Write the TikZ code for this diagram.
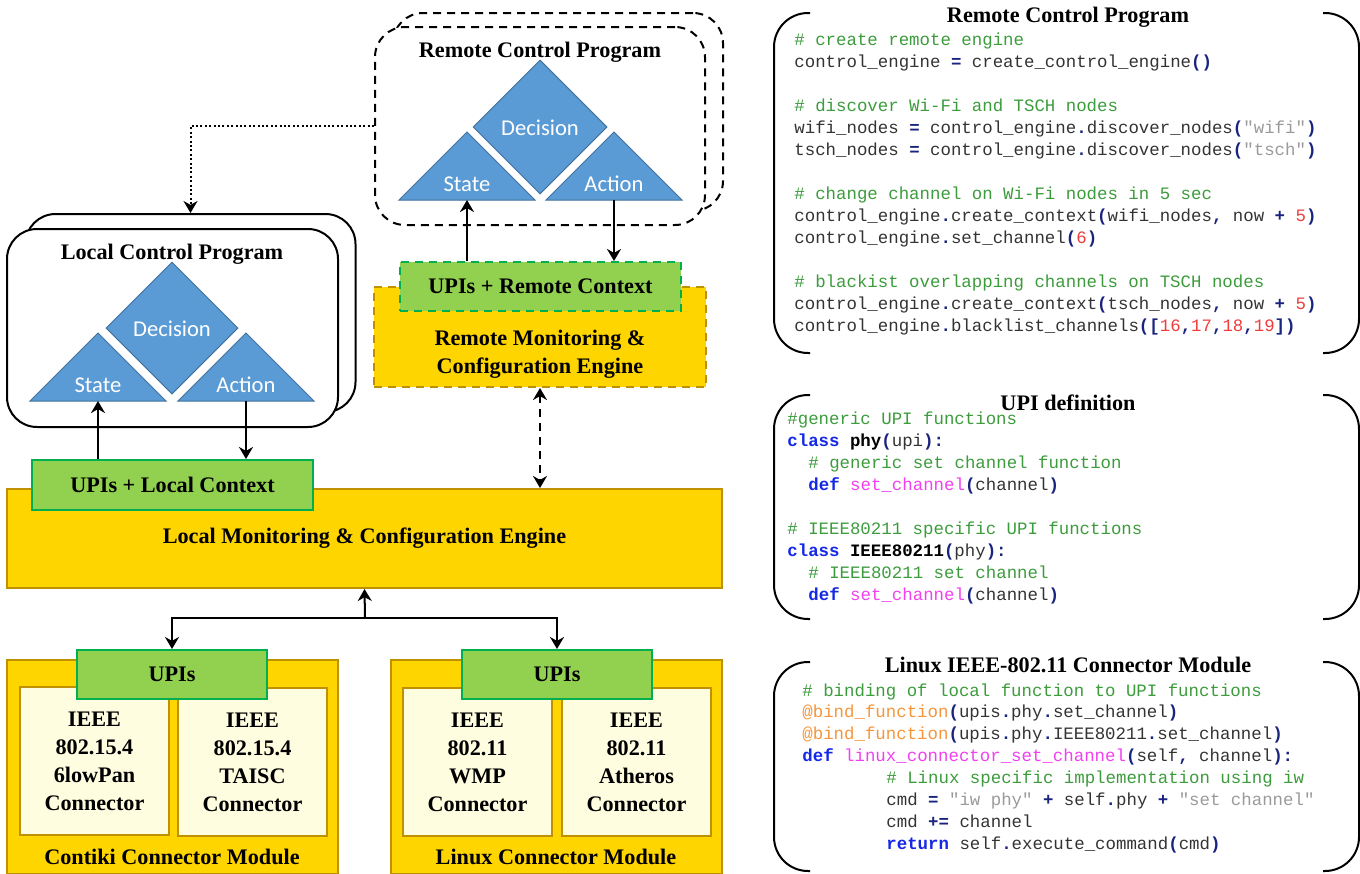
\documentclass[tikz,border=0pt]{standalone}
\usepackage{fontspec}
\setmainfont{Liberation Serif}
\setmonofont{Liberation Mono}
\newfontfamily\trifont{Carlito}
\usetikzlibrary{arrows.meta}
\usetikzlibrary{shapes.geometric}

\definecolor{engold}{HTML}{FFD500}
\definecolor{engedge}{HTML}{BF9000}
\definecolor{upigreen}{HTML}{92D050}
\definecolor{upiedge}{HTML}{00B050}
\definecolor{connfill}{HTML}{FFFDE0}
\definecolor{triblue}{HTML}{5B9BD5}
\definecolor{triedge}{HTML}{41719C}
\definecolor{codetext}{HTML}{333333}
\definecolor{codegreen}{HTML}{3C9C3C}
\definecolor{codenavy}{HTML}{1A237E}
\definecolor{codered}{HTML}{F03C3C}
\definecolor{codegray}{HTML}{9A9A9A}
\definecolor{codeblue}{HTML}{1428E6}
\definecolor{codepink}{HTML}{F040F0}
\definecolor{codeorange}{HTML}{F5963C}

\newcommand{\hlcmt}[1]{\textcolor{codegreen}{#1}}
\newcommand{\hlop}[1]{\textcolor{codenavy}{\bfseries #1}}
\newcommand{\hlnum}[1]{\textcolor{codered}{#1}}
\newcommand{\hlstr}[1]{\textcolor{codegray}{#1}}
\newcommand{\hlkw}[1]{\textcolor{codeblue}{\bfseries #1}}
\newcommand{\hlfn}[1]{\textcolor{codepink}{#1}}
\newcommand{\hldec}[1]{\textcolor{codeorange}{#1}}
\newcommand{\boxfont}{\bfseries\fontsize{11.1pt}{14pt}\selectfont}
\newcommand{\codefont}{\ttfamily\fontsize{8.7pt}{11pt}\selectfont}

\begin{document}
\begin{tikzpicture}[x=0.5pt, y=-0.5pt]
    \tikzstyle{prog}=[draw, line width=1pt, fill=white, rounded corners=15pt, minimum width=165pt, minimum height=99pt]
    \tikzstyle{rprog}=[prog, dash pattern=on 4pt off 3pt]
    \tikzstyle{lbl}=[font=\boxfont, align=center, inner sep=0]
    \tikzstyle{engine}=[draw=engedge, fill=engold, line width=1pt, font=\boxfont, align=center]
    \tikzstyle{upi}=[draw=upiedge, fill=upigreen, line width=1pt, font=\boxfont, minimum height=24.5pt]
    \tikzstyle{conn}=[draw=engedge, fill=connfill, line width=1pt, font=\boxfont, align=center, minimum width=74.5pt, minimum height=74pt]
    \tikzstyle{tri}=[draw=triedge, fill=triblue, line width=0.5pt]
    \tikzstyle{tritxt}=[font=\trifont\fontsize{11.3pt}{13pt}\selectfont, text=white, inner sep=0]
    \tikzstyle{arr}=[-{Stealth[length=6pt, width=7pt]}, line width=1pt]
    \tikzstyle{code}=[font=\codefont, text=codetext, anchor=west, inner sep=0, text height=6pt, text depth=1.8pt]
    \tikzstyle{panel}=[inner sep=0, outer sep=0]
    \tikzstyle{bracket}=[line width=1pt, rounded corners=17pt]

    \useasboundingbox (0,0) rectangle (1360,873);

    % local control program
    \node[prog] (lback) at (190.5,313) {};
    \node[prog, minimum width=165.5pt] (lfront) at (172.5,328) {};
    \node[lbl] (ltitle) at (172,254) {Local Control Program};
    \node[diamond, tri, minimum width=66pt, minimum height=66pt, inner sep=0] (ldec) at (172,328) {};
    \draw[tri] (30,401) -- (98,333) -- (166,401) -- cycle;
    \draw[tri] (178,401) -- (246,333) -- (314,401) -- cycle;
    \node[tritxt] (ldectxt) at (172,329) {Decision};
    \node[tritxt] (lstatetxt) at (98,385) {State};
    \node[tritxt] (lactiontxt) at (246,385) {Action};
    \coordinate (lstate) at (98,401);
    \coordinate (laction) at (246,401);

    % remote control program
    \node[rprog] (rback) at (558,112) {};
    \node[rprog] (rfront) at (540,126) {};
    \node[lbl] (rtitle) at (540,52) {Remote Control Program};
    \node[diamond, tri, minimum width=67pt, minimum height=67pt, inner sep=0] (rdec) at (540,127) {};
    \draw[tri] (399,200) -- (467,132) -- (535,200) -- cycle;
    \draw[tri] (546,200) -- (614,132) -- (682,200) -- cycle;
    \node[tritxt] (rdectxt) at (540,128) {Decision};
    \node[tritxt] (rstatetxt) at (467,184) {State};
    \node[tritxt] (ractiontxt) at (614,184) {Action};
    \coordinate (rstate) at (467,200);
    \coordinate (raction) at (614,200);

    % engines
    \node[engine, dash pattern=on 4pt off 3pt, minimum width=166pt, minimum height=50pt] (rme) at (540,337) {};
    \node[lbl] (rmetxt) at (540,354) {Remote Monitoring \&\\Configuration Engine};
    \node[upi, dash pattern=on 4pt off 3pt, minimum width=140.5pt] (rupi) at (540.5,286.5) {UPIs + Remote Context};
    \node[engine, minimum width=357.5pt, minimum height=49.5pt] (lme) at (364.5,538.5) {Local Monitoring \& Configuration Engine};
    \node[upi, minimum width=140.5pt, minimum height=25pt] (lupi) at (172.5,485) {UPIs + Local Context};

    % connector modules
    \node[engine, minimum width=165.5pt, minimum height=107pt] (cmod) at (172.5,767) {};
    \node[conn] (c1) at (94.5,761) {IEEE\\802.15.4\\6lowPan\\Connector};
    \node[conn] (c2) at (252.5,762) {IEEE\\802.15.4\\TAISC\\Connector};
    \node[upi, minimum width=95pt] (cupi) at (172,674.5) {UPIs};
    \node[lbl] (cmodtxt) at (172,857) {Contiki Connector Module};

    \node[engine, minimum width=165.5pt, minimum height=107pt] (lmod) at (556.5,767) {};
    \node[conn] (l1) at (477.5,762) {IEEE\\802.11\\WMP\\Connector};
    \node[conn] (l2) at (636.5,762) {IEEE\\802.11\\Atheros\\Connector};
    \node[upi, minimum width=95pt] (lupi2) at (557,674.5) {UPIs};
    \node[lbl] (lmodtxt) at (556,857) {Linux Connector Module};

    % arrows
    \draw[arr] (lupi.north -| lstate) -- (lstate);
    \draw[arr] (laction) -- (laction |- lupi.north);
    \draw[arr] (rupi.north -| rstate) -- (rstate);
    \draw[arr] (raction) -- (raction |- rupi.north);
    \draw[arr, line width=1pt, dash pattern=on 1pt off 1.2pt] (rfront.west) -| (lback.north);
    \draw[arr, {Stealth[length=6pt, width=7pt]}-{Stealth[length=6pt, width=7pt]}, dash pattern=on 4pt off 3pt] (rme.south) -- (rme.south |- lme.north);
    \coordinate (fork) at (365,618);
    \draw[arr] (fork) -- (lme.south);
    \draw[arr] (fork) -| (cupi.north);
    \draw[arr] (fork) -| (lupi2.north);

    % code panels
    \node[panel, minimum width=292.5pt, minimum height=170pt] (rcpbox) at (1066.5,183) {};
    \node[panel, minimum width=292.5pt, minimum height=112pt] (upibox) at (1066.5,507) {};
    \node[panel, minimum width=292.5pt, minimum height=104.5pt] (linbox) at (1066.5,766.5) {};
    \foreach \p in {rcpbox, upibox, linbox} {
        \draw[bracket] ([xshift=18pt]\p.north west) -- (\p.north west) -- (\p.south west) -- ([xshift=18pt]\p.south west);
        \draw[bracket] ([xshift=-18pt]\p.north east) -- (\p.north east) -- (\p.south east) -- ([xshift=-18pt]\p.south east);
    }
    \node[lbl] (rcptitle) at (1068,17) {Remote Control Program};
    \node[lbl] (upititle) at (1068,403) {UPI definition};
    \node[lbl] (lintitle) at (1068,665) {Linux IEEE-802.11 Connector Module};

    \foreach \x/\y/\txt [count=\i] in {
        794/41/{\hlcmt{\# create remote engine}},
        794/63/{control\_engine \hlop{=} create\_control\_engine\hlop{()}},
        794/107/{\hlcmt{\# discover Wi-Fi and TSCH nodes}},
        794/129/{wifi\_nodes \hlop{=} control\_engine\hlop{.}discover\_nodes\hlop{(}\hlstr{"wifi"}\hlop{)}},
        794/151/{tsch\_nodes \hlop{=} control\_engine\hlop{.}discover\_nodes\hlop{(}\hlstr{"tsch"}\hlop{)}},
        794/195/{\hlcmt{\# change channel on Wi-Fi nodes in 5 sec}},
        794/217/{control\_engine\hlop{.}create\_context\hlop{(}wifi\_nodes\hlop{,} now \hlop{+} \hlnum{5}\hlop{)}},
        794/239/{control\_engine\hlop{.}set\_channel\hlop{(}\hlnum{6}\hlop{)}},
        794/283/{\hlcmt{\# blackist overlapping channels on TSCH nodes}},
        794/305/{control\_engine\hlop{.}create\_context\hlop{(}tsch\_nodes\hlop{,} now \hlop{+} \hlnum{5}\hlop{)}},
        794/327/{control\_engine\hlop{.}blacklist\_channels\hlop{([}\hlnum{16}\hlop{,}\hlnum{17}\hlop{,}\hlnum{18}\hlop{,}\hlnum{19}\hlop{])}}}
        \node[code] (rcp\i) at (\x,\y) {\txt};

    \foreach \x/\y/\txt [count=\i] in {
        787/420/{\hlcmt{\#generic UPI functions}},
        787/442/{\hlkw{class} {\bfseries\color{black}phy}\hlop{(}upi\hlop{):}},
        808/464/{\hlcmt{\# generic set channel function}},
        808/486/{\hlkw{def} \hlfn{set\_channel}\hlop{(}channel\hlop{)}},
        787/530/{\hlcmt{\# IEEE80211 specific UPI functions}},
        787/552/{\hlkw{class} {\bfseries\color{black}IEEE80211}\hlop{(}phy\hlop{):}},
        808/574/{\hlcmt{\# IEEE80211 set channel}},
        808/596/{\hlkw{def} \hlfn{set\_channel}\hlop{(}channel\hlop{)}}}
        \node[code] (upi\i) at (\x,\y) {\txt};

    \foreach \x/\y/\txt [count=\i] in {
        802/692/{\hlcmt{\# binding of local function to UPI functions}},
        802/713/{\hldec{@bind\_function}\hlop{(}upis\hlop{.}phy\hlop{.}set\_channel\hlop{)}},
        802/735/{\hldec{@bind\_function}\hlop{(}upis\hlop{.}phy\hlop{.}IEEE80211\hlop{.}set\_channel\hlop{)}},
        802/757/{\hlkw{def} \hlfn{linux\_connector\_set\_channel}\hlop{(}self\hlop{,} channel\hlop{):}},
        886/779/{\hlcmt{\# Linux specific implementation using iw}},
        886/801/{cmd \hlop{=} \hlstr{"iw phy"} \hlop{+} self\hlop{.}phy \hlop{+} \hlstr{"set channel"}},
        886/823/{cmd \hlop{+=} channel},
        886/845/{\hlkw{return} self\hlop{.}execute\_command\hlop{(}cmd\hlop{)}}}
        \node[code] (lin\i) at (\x,\y) {\txt};
\end{tikzpicture}
\end{document}
